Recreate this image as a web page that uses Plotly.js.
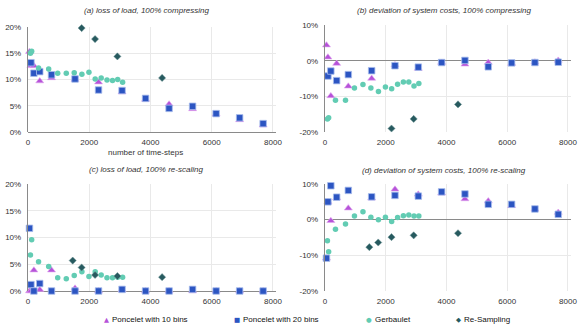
<!DOCTYPE html>
<html>
<head>
<meta charset="utf-8">
<script src="https://cdn.plot.ly/plotly-3.0.1.min.js"></script>
<style>
  html, body { margin: 0; padding: 0; background: #fff; }
  #chart { width: 580px; height: 324px; }
</style>
</head>
<body>
<div id="chart"></div>
<script>
// x positions (number of time-steps)
var xPoncelet = [48, 96, 192, 384, 768, 1536, 2304, 3072, 3840, 4608, 5376, 6144, 6912, 7680]
var xGerbaulet = [80, 120, 345, 675, 970, 1250, 1510, 1760, 1990, 2195, 2390, 2580, 2760, 2930, 3090]
var xResampling = [1460, 1752, 2190, 2920, 4380]

// (a) loss of load, 100% compressing  (values in %)
var pon10A = [15.3, 12.6, 12.6, 9.7, 10.3, 10.0, 9.5, 7.6, 6.2, 5.3, 4.4, 3.4, 2.3, 1.3]
var pon20A = [null, 13.2, 11.2, 11.5, 10.9, 10.1, 8.0, 7.9, 6.4, 4.5, 4.9, 3.5, 2.7, 1.6]
var gerbA = [15.0, 15.4, 12.2, 12.0, 11.2, 11.2, 11.3, 11.0, 11.4, 10.1, 10.3, 9.9, 9.8, 10.0, 9.5]
var resA = [null, 19.8, 17.7, 14.4, 10.3]

// (b) deviation of system costs, 100% compressing
var pon10B = [4.4, 1.0, -9.9, -0.8, -7.2, -5.0, -1.2, -2.2, -0.5, -1.0, -0.5, -0.8, -0.4, 0.1]
var pon20B = [null, -4.3, -2.9, -5.6, -3.9, -2.8, -1.4, -1.8, -0.5, 0.1, -1.7, -0.6, -0.5, -0.4]
var gerbB = [-16.4, -16.1, -11.1, -11.1, -7.7, -6.7, -7.7, -8.7, -7.4, -7.9, -6.6, -6.0, -6.0, -7.1, -6.4]
var resB = [null, null, -19.1, -16.4, -12.3]

// (c) loss of load, 100% re-scaling
var pon10C = [0, 0, 3.9, 0.25, 3.9, 0.5, 0, 0.2, 0, 0, 0, 0, 0, 0]
var pon20C = [11.75, 1.2, 0, 1.4, 0, 0, 0, 0.3, 0, 0, 0.3, 0, 0, 0]
var gerbC = [6.75, 9.6, 5.5, 4.6, 2.5, 2.3, 2.9, 3.6, 2.7, 3.6, 3.0, 2.5, 2.5, 2.6, 2.6]
var resC = [5.7, 4.4, 3.0, 2.8, 2.6]

// (d) deviation of system costs, 100% re-scaling
var pon10D = [-10.8, 5.0, -0.3, 6.1, 3.2, 6.0, 8.5, 7.1, 7.4, 5.8, 5.2, 3.9, 2.9, 2.0]
var pon20D = [-10.8, 5.0, 9.5, 6.3, 8.2, 6.4, 6.8, 6.6, 7.8, 7.2, 4.3, 4.3, 3.0, 1.5]
var gerbD = [-5.9, -9.0, -2.7, -1.2, 1.0, 2.2, 0.7, 0.0, 0.7, -0.5, 0.6, 1.1, 1.3, 1.0, 1.0]
var resD = [-7.7, -6.4, -4.9, -4.4, -3.8]

var seriesNames = ["Poncelet with 10 bins", "Poncelet with 20 bins", "Gerbaulet", "Re-Sampling"]
var panelTitles = [
  "(a) loss of load, 100% compressing",
  "(b) deviation of system costs, 100% compressing",
  "(c) loss of load, 100% re-scaling",
  "(d) deviation of system costs, 100% re-scaling"
]
var xTicks = [0, 2000, 4000, 6000, 8000]
var yTicksLoss = [0, 5, 10, 15, 20]
var yTicksLossText = ["0%", "5%", "10%", "15%", "20%"]
var yTicksDev = [-20, -10, 0, 10]
var yTicksDevText = ["-20%", "-10%", "0%", "10%"]

var W = 580, H = 324
function px(v) { return v / W }
function py(v) { return (H - v) / H }

var FONT = "Liberation Sans, Arial, sans-serif"
var styles = [
  { symbol: "triangle-up", size: 7, color: "#b653d9", line: { width: 0.6, color: "#e0a8f0" }, glyph: "\u25B2" },
  { symbol: "square", size: 6.5, color: "#2c55c2", line: { width: 0.8, color: "#a8bcec" }, glyph: "\u25A0" },
  { symbol: "circle", size: 5.5, color: "#62ccb3", line: { width: 0 }, glyph: "\u25CF" },
  { symbol: "diamond", size: 5.5, color: "#275a5f", line: { width: 0.5, color: "#6f9497" }, glyph: "\u25C6" }
]

var panels = [
  [pon10A, pon20A, gerbA, resA],
  [pon10B, pon20B, gerbB, resB],
  [pon10C, pon20C, gerbC, resC],
  [pon10D, pon20D, gerbD, resD]
]
var xs = [xPoncelet, xPoncelet, xGerbaulet, xResampling]

var data = []
panels.forEach(function (panel, p) {
  var ax = p === 0 ? "" : String(p + 1)
  panel.forEach(function (ys, s) {
    data.push({
      x: xs[s],
      y: ys,
      type: "scatter",
      mode: "markers",
      name: seriesNames[s],
      xaxis: "x" + ax,
      yaxis: "y" + ax,
      showlegend: false,
      cliponaxis: false,
      marker: { symbol: styles[s].symbol, size: styles[s].size, color: styles[s].color, line: styles[s].line }
    })
  })
})

function xAxis(x0, x1, anchor) {
  return {
    domain: [px(x0), px(x1)], range: [0, 8100], anchor: anchor,
    tickvals: xTicks, showgrid: true, gridcolor: "#e9e9e9", gridwidth: 1,
    zeroline: false, showline: false, ticks: "",
    tickfont: { family: FONT, size: 8, color: "#333" }, ticklabelstandoff: 4
  }
}
function yAxis(top, bottom, anchor, loss) {
  return {
    domain: [py(bottom), py(top)], range: loss ? [0, 20] : [-20, 10], anchor: anchor,
    tickvals: loss ? yTicksLoss : yTicksDev, ticktext: loss ? yTicksLossText : yTicksDevText,
    showgrid: true, gridcolor: "#e9e9e9", gridwidth: 1,
    zeroline: true, zerolinecolor: "#8a8a8a", zerolinewidth: 1,
    showline: true, linecolor: "#8a8a8a", linewidth: 1.2, ticks: "",
    tickfont: { family: FONT, size: 8, color: "#333" }, ticklabelstandoff: 4
  }
}

var annotations = []
var titlePos = [[147, 10], [444, 10], [146, 169], [444, 170]]
panelTitles.forEach(function (t, i) {
  annotations.push({
    text: t, xref: "paper", yref: "paper", x: px(titlePos[i][0]), y: py(titlePos[i][1]),
    xanchor: "center", yanchor: "middle", showarrow: false,
    font: { family: FONT, size: 8, color: "#333", style: "italic" }
  })
})
annotations.push({
  text: "number of time-steps", xref: "paper", yref: "paper", x: px(145), y: py(152),
  xanchor: "center", yanchor: "middle", showarrow: false,
  font: { family: FONT, size: 8, color: "#333" }
})
// axis arrowheads
;["", "2", "3", "4"].forEach(function (a, i) {
  var loss = i % 2 === 0
  annotations.push({
    xref: "x" + a, yref: "y" + a, x: 0, y: loss ? 20.6 : 10.6, ax: 0, ay: 8, text: "",
    showarrow: true, arrowhead: 2, arrowsize: 0.7, arrowwidth: 1, arrowcolor: "#8a8a8a"
  })
  annotations.push({
    xref: "x" + a, yref: "y" + a, x: 8170, y: 0, ax: -8, ay: 0, text: "",
    showarrow: true, arrowhead: 2, arrowsize: 0.7, arrowwidth: 1, arrowcolor: "#8a8a8a"
  })
})

// legend row along the bottom (symbol + label)
var legendSymbolX = [106, 237, 369, 458]
var legendY = 319.5
seriesNames.forEach(function (name, i) {
  annotations.push({
    text: styles[i].glyph, xref: "paper", yref: "paper",
    x: px(legendSymbolX[i]), y: py(legendY), xanchor: "center", yanchor: "middle", showarrow: false,
    font: { family: "DejaVu Sans", size: 6.5, color: styles[i].color }
  })
  annotations.push({
    text: name, xref: "paper", yref: "paper",
    x: px(legendSymbolX[i] + 4), y: py(legendY), xanchor: "left", yanchor: "middle", showarrow: false,
    font: { family: FONT, size: 8, color: "#111" }
  })
})

var layout = {
  width: W, height: H,
  margin: { l: 0, r: 0, t: 0, b: 0 },
  paper_bgcolor: "#fff", plot_bgcolor: "#fff",
  showlegend: false,
  font: { family: FONT, size: 8, color: "#333" },
  xaxis: xAxis(28, 276, "y"),
  yaxis: yAxis(27, 132, "x", true),
  xaxis2: xAxis(325, 571, "y2"),
  yaxis2: yAxis(25.3, 131.7, "x2", false),
  xaxis3: xAxis(28, 276, "y3"),
  yaxis3: yAxis(184.3, 291, "x3", true),
  xaxis4: xAxis(325, 571, "y4"),
  yaxis4: yAxis(184, 291, "x4", false),
  annotations: annotations
}

Plotly.newPlot("chart", data, layout, { staticPlot: true, displayModeBar: false })
</script>
</body>
</html>
